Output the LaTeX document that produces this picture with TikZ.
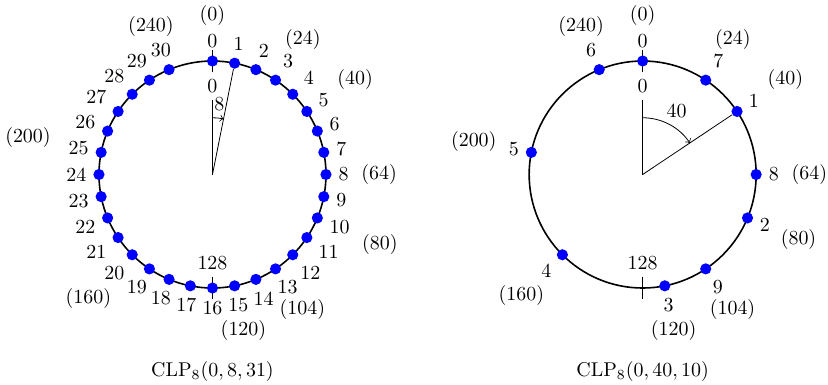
\documentclass[tikz,border=0pt]{standalone}

\begin{document}
\begin{tikzpicture}[>=to,
    punkt/.style={circle, fill=blue, inner sep=0pt, minimum size=5.6pt}]

  % Rahmen
  \useasboundingbox (-3.744,-3.692) rectangle (10.846,3.075);

  % ---------- linker Kreis: CLP_8(0,8,31) ----------
  \coordinate (M1) at (0,0);
  \draw[thick] (M1) circle (2);

  % Markierungen 0 und 128
  \draw (0,1.8) coordinate (a0i) -- (0,2.2);
  \draw (0,-1.8) coordinate (a128i) -- (0,-2.2);
  \node[below] (a0in) at (a0i) {0};
  \node[above] (a128) at (a128i) {128};

  % Punkte (Schritt 8 von 256 = 11.25 Grad)
  \foreach \k in {0,...,30} {
      \pgfmathsetmacro\w{90-\k*11.25}
      \pgfmathsetmacro\v{\w+180}
      \node[punkt] (a\k) at (\w:2) {};
      \node[anchor=\v] (la\k) at (\w:2.1) {\k};
    }

  % Positionen (aussen), 1 Einheit = 1.40625 Grad
  \foreach \p/\r in {0/2.5,24/2.5,40/2.5,64/2.5,80/2.72,104/2.5,120/2.5,160/2.67,200/2.78,240/2.5} {
      \pgfmathsetmacro\w{90-\p*1.40625}
      \pgfmathsetmacro\v{\w+180}
      \node[anchor=\v] (ap\p) at (\w:\r) {(\p)};
    }

  % Winkel
  \draw (M1) -- (a0in);
  \draw (M1) -- (a1);
  \draw[->] (0,1) arc[start angle=90, end angle=78.75, radius=1];
  \node (aw) at (84.4:1.25) {8};

  \node (acap) at (0,-3.48) {$\mathrm{CLP}_8(0,8,31)$};

  % ---------- rechter Kreis: CLP_8(0,40,10) ----------
  \begin{scope}[xshift=7.58cm]
    \coordinate (M2) at (0,0);
    \draw[thick] (M2) circle (2);

    % Markierungen 0 und 128
    \draw (0,1.8) coordinate (b0i) -- (0,2.2);
    \draw (0,-1.8) coordinate (b128i) -- (0,-2.2);
    \node[below] (b0in) at (b0i) {0};
    \node[above] (b128) at (b128i) {128};

    % Punkte
    \foreach \k in {0,...,9} {
        \pgfmathsetmacro\w{90-mod(40*\k,256)*1.40625}
        \pgfmathsetmacro\v{\w+180}
        \node[punkt] (b\k) at (\w:2) {};
        \node[anchor=\v] (lb\k) at (\w:2.1) {\k};
      }

    % Positionen (aussen)
    \foreach \p/\r in {0/2.5,24/2.5,40/2.5,64/2.5,80/2.5,104/2.5,120/2.5,160/2.6,200/2.5,240/2.5} {
        \pgfmathsetmacro\w{90-\p*1.40625}
        \pgfmathsetmacro\v{\w+180}
        \node[anchor=\v] (bp\p) at (\w:\r) {(\p)};
      }

    % Winkel
    \draw (M2) -- (b0in);
    \draw (M2) -- (b1);
    \draw[->] (0,1) arc[start angle=90, end angle=33.75, radius=1];
    \node (bw) at (61.9:1.27) {40};

    \node (bcap) at (0,-3.48) {$\mathrm{CLP}_8(0,40,10)$};
  \end{scope}

\end{tikzpicture}
\end{document}
